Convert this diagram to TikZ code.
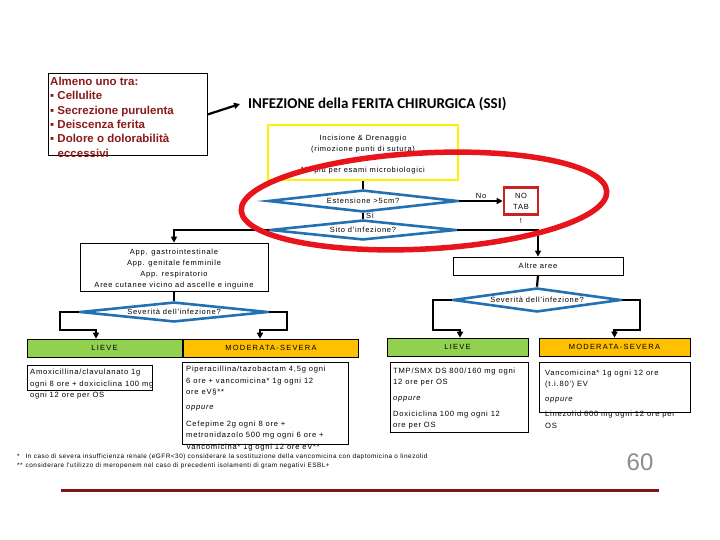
\documentclass[tikz,border=0pt]{standalone}
\usepackage{fontspec}
\setmainfont{Liberation Sans}
\newfontfamily\smf[LetterSpace=10]{Liberation Sans}
\newfontfamily\smw[LetterSpace=16]{Liberation Sans}
\newfontfamily\fnf[LetterSpace=8]{Liberation Sans}
\newfontfamily\ttl{Carlito}
\usetikzlibrary{shapes.geometric,arrows.meta}
\definecolor{dred}{RGB}{139,26,26}
\definecolor{bluedia}{RGB}{36,113,178}
\definecolor{ellred}{RGB}{232,20,28}
\definecolor{notab}{RGB}{200,35,35}
\definecolor{lgreen}{RGB}{146,208,80}
\definecolor{lorange}{RGB}{255,192,0}
\definecolor{barred}{RGB}{128,20,20}
\definecolor{pgray}{RGB}{140,140,140}
\begin{document}
\begin{tikzpicture}[x=1pt,y=-1pt,
  sm/.style={font=\smf\fontsize{7.5}{11}\selectfont},
  bd/.style={font=\smf\fontsize{7.6}{11.5}\selectfont},
  hd/.style={font=\smw\fontsize{7.5}{11}\selectfont},
  box/.style={draw, line width=0.8pt, inner sep=0},
  conn/.style={line width=2.2pt, black},
  arr/.style={conn, -{Triangle[length=6pt,width=6pt]}},
  dia/.style={diamond, draw=bluedia, line width=2.6pt, shape aspect=9, inner sep=0, sm},
  body/.style={bd, anchor=north west, inner sep=0, align=left}]
\useasboundingbox (0,0) rectangle (720,540);

% criteria box
\node[box, minimum width=159, minimum height=82, anchor=north west] (crit) at (48,73) {};
\node[anchor=north west, inner sep=0, align=left, text=dred,
      font=\bfseries\fontsize{11.5}{14.3}\selectfont] (critt) at (50,77)
  {Almeno uno tra:\\ ▪ Cellulite\\ ▪ Secrezione purulenta\\ ▪ Deiscenza ferita\\
   ▪ Dolore o dolorabilità\\ \hspace*{7.5pt}eccessivi};

% title
\node[anchor=west, inner sep=0, font=\ttl\bfseries\fontsize{15}{18}\selectfont] (title) at (248,104)
  {INFEZIONE della FERITA CHIRURGICA (SSI)};
\draw[arr] (crit.east) -- ([xshift=-8pt]title.west);

% incision box
\node[draw=yellow, line width=2.6pt, minimum width=190, minimum height=55, inner sep=0] (inc) at (363,152.5) {};
\node[sm, align=center, inner sep=0] (inct) at (363,154.5)
  {Incisione \& Drenaggio\\(rimozione punti di sutura)\\[10pt]No più per esami microbiologici};

% decision: extension
\node[dia, minimum width=190, minimum height=22] (est) at (363,201) {Estensione >5cm?};
\node[draw=notab, line width=2.6pt, minimum width=34, minimum height=27, align=center, inner sep=0, sm] (notab) at (521,201) {NO\\TAB};
\node[sm, inner sep=0] (excl) at (521,221) {!};
\draw[conn] (inc.south) -- (est.north);
\draw[arr] (est.east) -- node[sm, above, inner sep=1.5pt] (nolab) {No} (notab.west);

% decision: site
\node[dia, minimum width=186, minimum height=20] (sito) at (363,230) {Sito d'infezione?};
\draw[conn] (est.south) -- node[sm, right, inner sep=2pt, pos=0.4] (silab) {Sì} (sito.north);

\node[box, minimum width=188, minimum height=48] (app) at (174,267) {};
\node[sm, align=center, inner sep=0] (appt) at (174,269)
  {App. gastrointestinale\\App. genitale femminile\\App. respiratorio\\Aree cutanee vicino ad ascelle e inguine};
\node[box, minimum width=170, minimum height=18, sm] (altre) at (538,266) {Altre aree};
\draw[arr] (sito.west) -| (app.north);
\draw[arr] (sito.east) -| (altre.north);

% severity decisions
\node[dia, minimum width=188, minimum height=20] (sevL) at (174,312) {Severità dell'infezione?};
\node[dia, minimum width=168, minimum height=24] (sevR) at (537,300) {Severità dell'infezione?};
\draw[conn] (app.south) -- (sevL.north);
\draw[conn] (altre.south) -- (sevR.north);

% headers
\node[draw, line width=0.6pt, fill=lgreen, minimum width=155, minimum height=18, inner sep=0, hd] (lieveL) at (104.5,348) {LIEVE};
\node[draw, line width=0.6pt, fill=lorange, minimum width=175, minimum height=18, inner sep=0, hd] (modL) at (271,348) {MODERATA-SEVERA};
\node[draw, line width=0.6pt, fill=lgreen, minimum width=141, minimum height=18, inner sep=0, hd] (lieveR) at (457.5,347) {LIEVE};
\node[draw, line width=0.6pt, fill=lorange, minimum width=151, minimum height=18, inner sep=0, hd] (modR) at (614.5,347) {MODERATA-SEVERA};

\coordinate (jl1) at (60,330);
\coordinate (jl2) at (287,330);
\coordinate (jr1) at (433,330);
\coordinate (jr2) at (640,330);
\draw[arr] (sevL.west) -| (jl1) -| ([xshift=-8.5pt]lieveL.north);
\draw[arr] (sevL.east) -| (jl2) -| ([xshift=-11pt]modL.north);
\draw[arr] (sevR.west) -| (jr1) -| ([xshift=2.5pt]lieveR.north);
\draw[arr] (sevR.east) -| (jr2) -| (modR.north);

% therapy boxes
\node[box, minimum width=125, minimum height=25] (amox) at (89.5,377.5) {};
\node[body] (amoxt) at (30,369) {Amoxicillina/clavulanato 1g\\ogni 8 ore + doxiciclina 100 mg\\ogni 12 ore per OS};

\node[box, minimum width=166, minimum height=82] (pip) at (265,403) {};
\node[body] (pipt) at (186,366) {Piperacillina/tazobactam 4,5g ogni\\6 ore + vancomicina* 1g ogni 12\\ore eV§**\\[3.5pt]\textit{oppure}\\[5pt]Cefepime 2g ogni 8 ore +\\metronidazolo 500 mg ogni 6 ore +\\Vancomicina* 1g ogni 12 ore eV**};

\node[box, minimum width=138, minimum height=70] (tmp) at (459,397) {};
\node[body] (tmpt) at (393,367.5) {TMP/SMX DS 800/160 mg ogni\\12 ore per OS\\[4.5pt]\textit{oppure}\\[4pt]Doxiciclina 100 mg ogni 12\\ore per OS};

\node[box, minimum width=151, minimum height=50] (van) at (614.5,387) {};
\node[body] (vant) at (545,369.5) {Vancomicina* 1g ogni 12 ore\\(t.i.80') EV\\[3.5pt]\textit{oppure}\\[3.5pt]Linezolid 600 mg ogni 12 ore per\\OS};

% footnotes
\node[anchor=base west, inner sep=0, font=\fnf\fontsize{6.4}{8}\selectfont] (fn1) at (17,458)
  {*\hspace{6pt}In caso di severa insufficienza renale (eGFR<30) considerare la sostituzione della vancomicina con daptomicina o linezolid};
\node[anchor=base west, inner sep=0, font=\fnf\fontsize{6.4}{8}\selectfont] (fn2) at (17,467)
  {**\hspace{3pt}considerare l'utilizzo di meropenem nel caso di precedenti isolamenti di gram negativi ESBL+};
\node[inner sep=0, text=pgray, font=\fontsize{24}{26}\selectfont] (pg) at (640,462) {60};
\draw[barred, line width=3pt] (61,490) -- (659,490);

% red highlight ellipse
\draw[ellred, line width=5.5pt, rotate around={3:(424,201)}] (424,201) ellipse [x radius=183, y radius=48];
\end{tikzpicture}
\end{document}
